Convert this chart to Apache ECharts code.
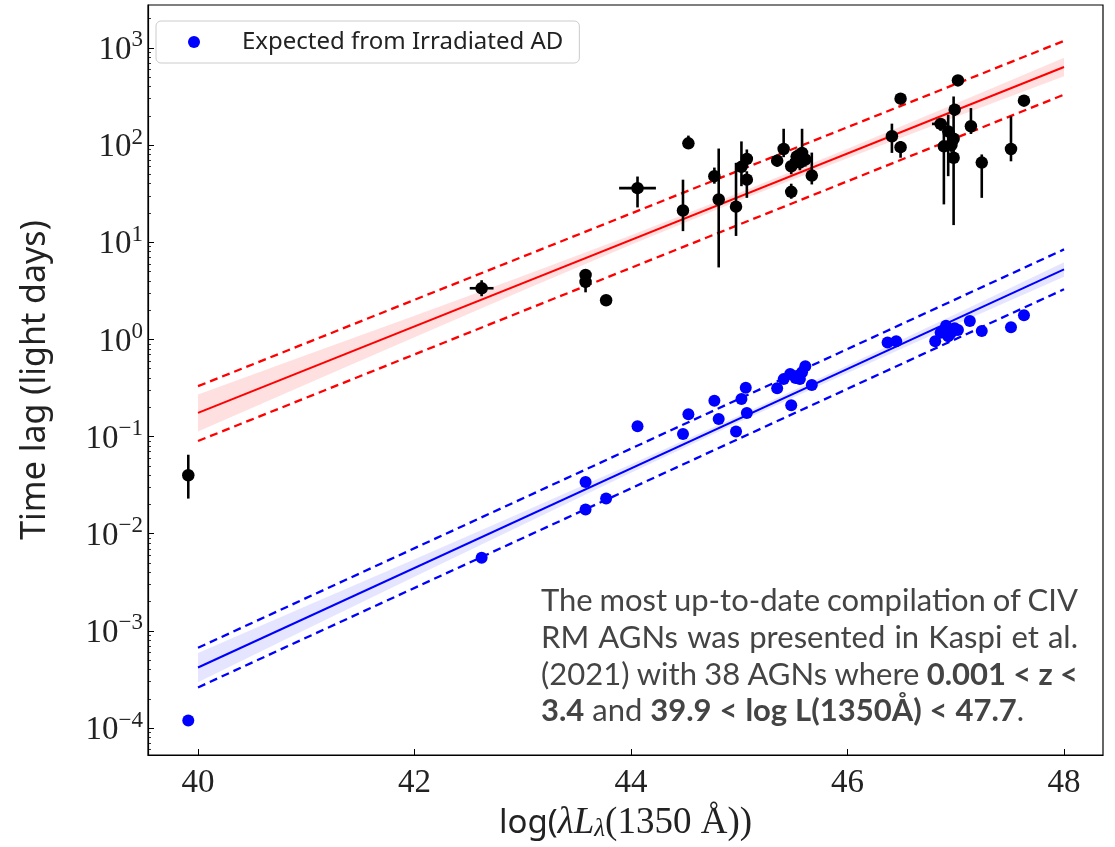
<!DOCTYPE html>
<html>
<head>
<meta charset="utf-8">
<script src="https://cdn.jsdelivr.net/npm/echarts@6/dist/echarts.min.js"></script>
<style>
html,body{margin:0;padding:0;background:#fff;}
#chart{width:1115px;height:847px;}
</style>
</head>
<body>
<div id="chart"></div>
<script>
// ---------- data ----------
// CIV RM AGNs: log(lambda L_lambda(1350A)) and measured lag (light days)
const civLogL = [39.91, 42.62, 43.58, 43.58, 43.77, 44.06, 44.48, 44.53, 44.77, 44.81, 44.97, 45.02, 45.07, 45.07, 45.35, 45.41, 45.48, 45.48, 45.53, 45.58, 45.61, 45.67, 45.56, 46.41, 46.49, 46.49, 46.86, 46.89, 46.93, 46.98, 46.98, 46.99, 47.02, 47.14, 47.24, 47.51, 47.63, 46.96];
const civLag  = [0.040, 3.36, 4.6, 3.9, 2.53, 36, 21.2, 104, 47.8, 27.5, 23.2, 59.6, 72, 44, 69, 91, 60.5, 33, 76, 83, 71, 48.5, 66, 123, 300, 95, 165, 97, 138, 116, 74, 231, 462, 156, 66, 91, 286, 100];
const civLagLo = [0.023, 2.78, 4.0, 3.05, 2.4, 22.8, 13, 95, 40, 5.5, 11.6, 37.7, 58, 28.6, 60, 75, 50, 28, 64, 70, 60, 39.3, 55, 83, 270, 74, 140, 24.5, 47.8, 95, 15, 200, 420, 130, 28.6, 68, 260, 85];
const civLagHi = [0.065, 4.06, 5.06, 4.3, 2.7, 47.4, 44, 125, 58.6, 92, 65.6, 109, 90, 53.7, 80, 147, 72, 40, 90, 147, 85, 83.6, 78, 166, 330, 110, 190, 130, 205, 140, 316, 260, 500, 240, 80, 197, 310, 118];
// horizontal error bars (only some AGNs): [logL, lag, logL low, logL high]
const civXErr = [[42.62, 3.36, 42.51, 42.73], [44.06, 36, 43.89, 44.23], [46.86, 165, 46.78, 46.93]];

// "Expected from Irradiated AD" lags
const adLogL = [39.91, 42.62, 43.58, 43.58, 43.77, 44.06, 44.48, 44.53, 44.77, 44.81, 44.97, 45.02, 45.06, 45.07, 45.35, 45.41, 45.47, 45.48, 45.53, 45.58, 45.61, 45.67, 45.56, 45.52, 46.37, 46.45, 46.81, 46.86, 46.91, 46.93, 46.95, 46.97, 46.99, 47.02, 47.13, 47.24, 47.51, 47.63];
const adLag  = [1.2e-4, 0.00565, 0.034, 0.0178, 0.023, 0.128, 0.106, 0.170, 0.233, 0.152, 0.113, 0.244, 0.318, 0.175, 0.314, 0.39, 0.44, 0.21, 0.42, 0.46, 0.53, 0.34, 0.39, 0.40, 0.93, 0.955, 0.955, 1.17, 1.38, 1.08, 1.15, 1.22, 1.30, 1.25, 1.55, 1.22, 1.33, 1.77];

// fitted relations (end points at logL = 40 and 48)
const fitX = [40, 48];
const civFit = [0.175, 636];
const civFitUp = [0.33, 1180];
const civFitDn = [0.090, 330];
const adFit = [4.2e-4, 5.26];
const adFitUp = [6.7e-4, 8.43];
const adFitDn = [2.62e-4, 3.28];

// confidence bands read at logL = 40..48
const bandX = [40, 41, 42, 43, 44, 45, 46, 47, 48];
const civBandHi = [0.271, 0.689, 1.75, 4.50, 11.8, 32.2, 91.8, 268, 791];
const civBandLo = [0.113, 0.345, 1.05, 3.18, 9.4, 26.8, 73.0, 194, 511];
const adBandHi = [5.93e-4, 1.80e-3, 5.46e-3, 0.0167, 0.052, 0.165, 0.543, 1.83, 6.22];
const adBandLo = [2.97e-4, 1.04e-3, 3.61e-3, 0.0124, 0.0423, 0.141, 0.452, 1.42, 4.41];

// axis ticks
const xTicks = [40, 42, 44, 46, 48];
const yDecades = [-4, -3, -2, -1, 0, 1, 2, 3];

const legendName = 'Expected from Irradiated AD';
const yTitle = 'Time lag (light days)';

// ---------- helpers ----------
const L = v => Math.log10(v);
const yMinor = [];
for (let n = -5; n <= 3; n++) for (let k = 2; k <= 9; k++) yMinor.push(L(k) + n);

const chart = echarts.init(document.getElementById('chart'), null, {renderer: 'canvas'});

function bandSeries(hi, lo, color) {
  return {
    type: 'custom', silent: true, z: 1,
    data: [[bandX[0], L(lo[0])]],
    renderItem: function (params, api) {
      const pts = [];
      for (let i = 0; i < bandX.length; i++) pts.push(api.coord([bandX[i], L(hi[i])]));
      for (let i = bandX.length - 1; i >= 0; i--) pts.push(api.coord([bandX[i], L(lo[i])]));
      return {type: 'polygon', shape: {points: pts}, style: {fill: color, stroke: null}};
    }
  };
}
function lineSeries(vals, color, dashed) {
  return {
    type: 'line', silent: true, z: 2, showSymbol: false, symbol: 'none',
    data: fitX.map((x, i) => [x, L(vals[i])]),
    lineStyle: {color: color, width: dashed ? 2.3 : 2, type: dashed ? [8, 5] : 'solid'}
  };
}

const serifFont = '"Liberation Serif", "DejaVu Serif", serif';
const sansFont = '"Noto Sans", "DejaVu Sans", sans-serif';

const option = {
  backgroundColor: '#fff',
  animation: false,
  grid: {left: 148, right: 12, top: 5, bottom: 90, show: true, borderColor: '#000', borderWidth: 1.2, backgroundColor: 'transparent'},
  legend: {
    data: [{name: legendName, icon: 'circle'}],
    left: 156, top: 21,
    padding: [9, 16, 9, 32],
    itemWidth: 12, itemHeight: 12,
    borderColor: '#cccccc', borderWidth: 1, borderRadius: 5,
    backgroundColor: '#fff',
    textStyle: {fontFamily: sansFont, fontSize: 24, color: '#222', padding: [0, 0, 0, 37]}
  },
  xAxis: {
    type: 'value', min: 39.538, max: 48.36,
    splitLine: {show: false},
    axisLine: {show: true, onZero: false, lineStyle: {color: '#000', width: 1.2}},
    axisTick: {show: true, inside: true, length: 6, customValues: xTicks, lineStyle: {color: '#000', width: 1}},
    axisLabel: {customValues: xTicks, margin: 12, fontFamily: serifFont, fontSize: 33, color: '#222'},
    name: '{a|log(}{m|λL}{sub|λ}{c|(1350 Å))}', nameLocation: 'middle', nameGap: 50,
    nameTextStyle: {
      color: '#222',
      rich: {
        a: {fontFamily: sansFont, fontSize: 33, color: '#222'},
        m: {fontFamily: serifFont, fontStyle: 'italic', fontSize: 37, color: '#222'},
        sub: {fontFamily: serifFont, fontStyle: 'italic', fontSize: 25, color: '#222', verticalAlign: 'bottom', lineHeight: 34},
        c: {fontFamily: serifFont, fontSize: 37, color: '#222'}
      }
    }
  },
  yAxis: [{
    type: 'value', min: -4.277, max: 3.441,
    splitLine: {show: false},
    axisLine: {show: true, onZero: false, lineStyle: {color: '#000', width: 1.2}},
    axisTick: {show: true, inside: true, length: 6, customValues: yDecades, lineStyle: {color: '#000', width: 1}},
    axisLabel: {
      customValues: yDecades, margin: 5,
      formatter: function (v) {
        const e = Math.round(v);
        return '{b|10}{s|' + (e < 0 ? '\u2212' + (-e) : e) + '}';
      },
      rich: {
        b: {fontFamily: serifFont, fontSize: 33, color: '#222', lineHeight: 38, verticalAlign: 'bottom'},
        s: {fontFamily: serifFont, fontSize: 23, color: '#222', lineHeight: 22, verticalAlign: 'top'}
      }
    },
    name: yTitle, nameLocation: 'middle', nameGap: 96, nameRotate: 90,
    nameTextStyle: {fontFamily: sansFont, fontSize: 34, color: '#222'}
  }, {
    type: 'value', min: -4.277, max: 3.441, position: 'left',
    splitLine: {show: false},
    axisLine: {show: false},
    axisTick: {show: true, inside: true, length: 3, customValues: yMinor, lineStyle: {color: '#000', width: 0.8}},
    axisLabel: {show: false}
  }],
  series: [
    bandSeries(civBandHi, civBandLo, 'rgba(255,0,0,0.12)'),
    bandSeries(adBandHi, adBandLo, 'rgba(0,0,255,0.10)'),
    lineSeries(civFit, '#ff0000', false),
    lineSeries(civFitUp, '#ff0000', true),
    lineSeries(civFitDn, '#ff0000', true),
    lineSeries(adFit, '#0000ff', false),
    lineSeries(adFitUp, '#0000ff', true),
    lineSeries(adFitDn, '#0000ff', true),
    {
      type: 'custom', silent: true, z: 3,
      data: civLogL.map((x, i) => [x, L(civLag[i])]),
      renderItem: function (params, api) {
        const i = params.dataIndex;
        const p1 = api.coord([civLogL[i], L(civLagLo[i])]);
        const p2 = api.coord([civLogL[i], L(civLagHi[i])]);
        return {type: 'line', shape: {x1: p1[0], y1: p1[1], x2: p2[0], y2: p2[1]}, style: {stroke: '#000', lineWidth: 2.6}};
      }
    },
    {
      type: 'custom', silent: true, z: 3,
      data: civXErr.map(r => [r[0], L(r[1])]),
      renderItem: function (params, api) {
        const r = civXErr[params.dataIndex];
        const p1 = api.coord([r[2], L(r[1])]);
        const p2 = api.coord([r[3], L(r[1])]);
        return {type: 'line', shape: {x1: p1[0], y1: p1[1], x2: p2[0], y2: p2[1]}, style: {stroke: '#000', lineWidth: 2.6}};
      }
    },
    {
      name: 'CIV lag', type: 'scatter', z: 4, symbol: 'circle', symbolSize: 12.5,
      itemStyle: {color: '#000', opacity: 1},
      data: civLogL.map((x, i) => [x, L(civLag[i])])
    },
    {
      name: legendName, type: 'scatter', z: 4, symbol: 'circle', symbolSize: 12,
      itemStyle: {color: '#0000ff', opacity: 1},
      data: adLogL.map((x, i) => [x, L(adLag[i])])
    }
  ]
};

// ---------- annotation text (justified) ----------
const noteLines = [
  [['The most up-to-date compilation of CIV', false]],
  [['RM AGNs was presented in Kaspi et al.', false]],
  [['(2021) with 38 AGNs where', false], ['0.001 < z <', true]],
  [['3.4', true], ['and', false], ['39.9 < log L(1350Å) < 47.7', true]]
];
const noteFont = 'Lato, "Noto Sans", sans-serif';
const noteSize = 31;
const noteLeft = 541, noteRight = 1078, noteTop = 601, noteStep = 36.8;
const cv = document.createElement('canvas').getContext('2d');
function fontStr(bold) { return (bold ? 'bold ' : '') + noteSize + 'px ' + noteFont; }
function measure(t, bold) { cv.font = fontStr(bold); return cv.measureText(t).width; }
const graphics = [];
noteLines.forEach((segs, li) => {
  const words = [];
  segs.forEach(s => s[0].split(' ').forEach(w => words.push([w, s[1]])));
  const last = li === noteLines.length - 1;
  const widths = words.map(w => measure(w[0], w[1]));
  const total = widths.reduce((a, b) => a + b, 0);
  const gap = last ? measure(' ', false) : (noteRight - noteLeft - total) / (words.length - 1);
  let x = noteLeft;
  words.forEach((w, wi) => {
    graphics.push({
      type: 'text', x: x, y: noteTop + li * noteStep, silent: true,
      style: {text: w[0], font: fontStr(w[1]), fill: '#444', verticalAlign: 'middle'}
    });
    x += widths[wi] + gap;
  });
  if (last) {
    graphics.push({
      type: 'text', x: x - gap, y: noteTop + li * noteStep, silent: true,
      style: {text: '.', font: fontStr(false), fill: '#444', verticalAlign: 'middle'}
    });
  }
});
option.graphic = graphics;

chart.setOption(option);
</script>
</body>
</html>
